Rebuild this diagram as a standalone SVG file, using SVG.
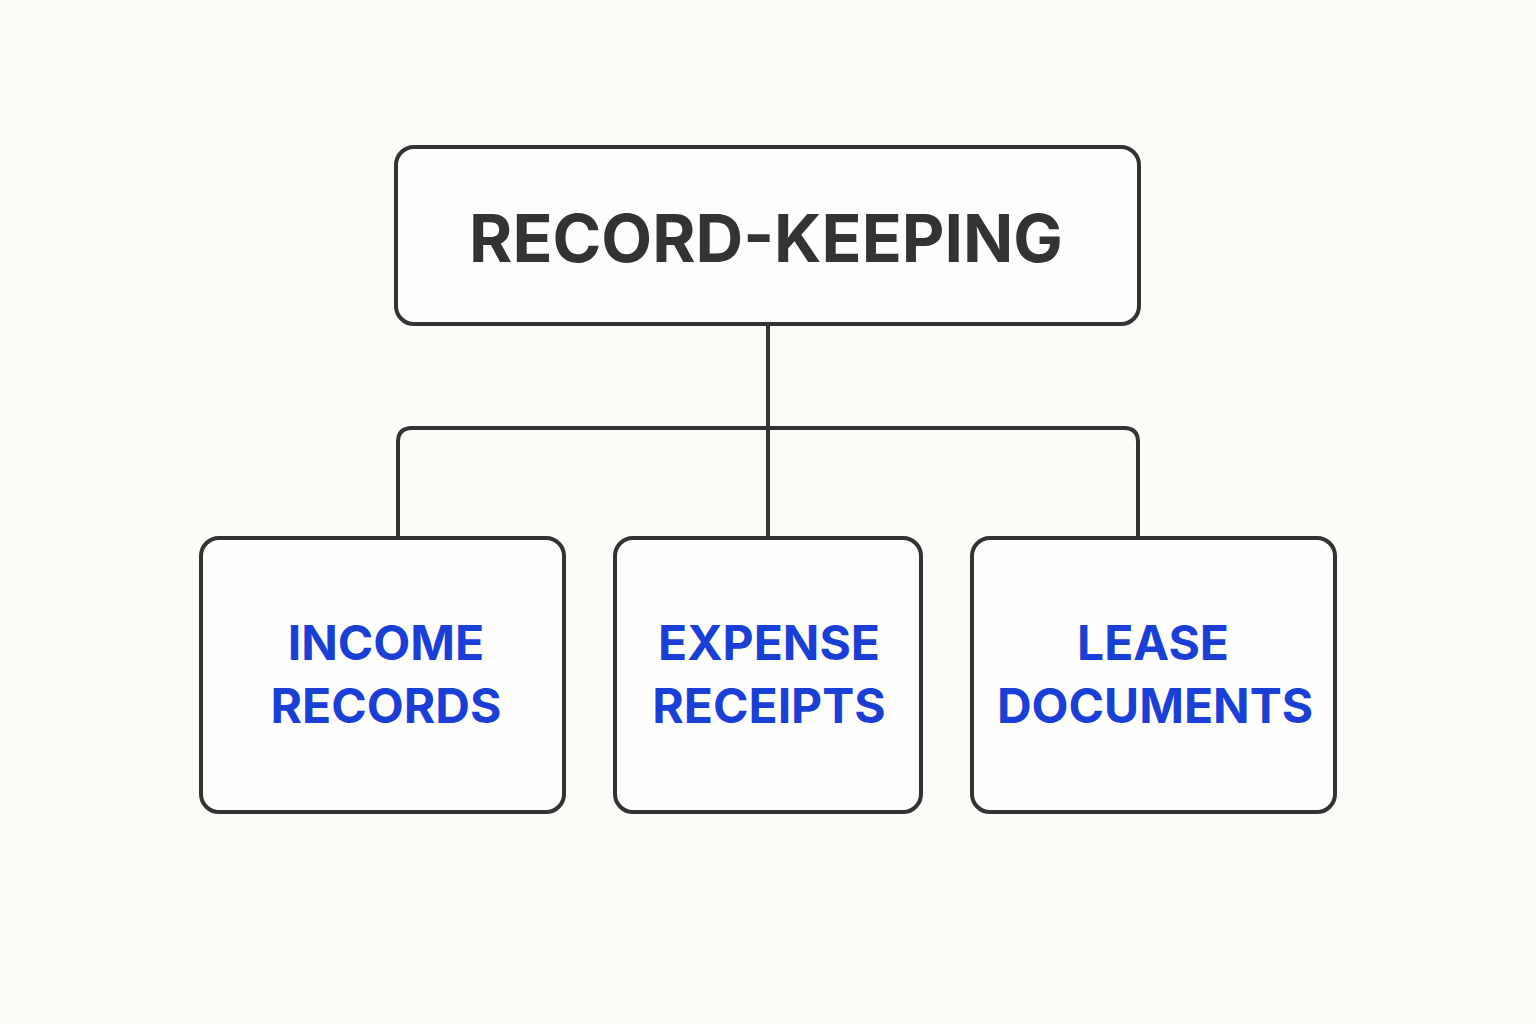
<svg xmlns="http://www.w3.org/2000/svg" width="1536" height="1024" viewBox="0 0 1536 1024">
<style>
.box{fill:#fefefc;stroke:#333;stroke-width:4}
.ln{fill:none;stroke:#333;stroke-width:4}
.t{font-family:Inter,"Liberation Sans",sans-serif;font-weight:700;text-anchor:middle}
.c{fill:#1a3fd6;font-size:48px}
</style>
<rect width="1536" height="1024" fill="#fcfbf7"/>
<g id="connectors">
<path class="ln" d="M768 324V536M398 536V442Q398 428 412 428H1124Q1138 428 1138 442V536"/>
</g>
<g id="root"><rect class="box" x="396" y="147" width="743" height="177" rx="18"/>
<text class="t" x="766" y="262" font-size="66" fill="#333">RECORD-KEEPING</text></g>
<g id="income"><rect class="box" x="201" y="538" width="363" height="274" rx="18"/>
<text class="t c" x="386" y="660">INCOME</text><text class="t c" x="386" y="723">RECORDS</text></g>
<g id="expense"><rect class="box" x="615" y="538" width="306" height="274" rx="18"/>
<text class="t c" x="769" y="660">EXPENSE</text><text class="t c" x="769" y="723">RECEIPTS</text></g>
<g id="lease"><rect class="box" x="972" y="538" width="363" height="274" rx="18"/>
<text class="t c" x="1153" y="660">LEASE</text><text class="t c" x="1155" y="723">DOCUMENTS</text></g>
</svg>
